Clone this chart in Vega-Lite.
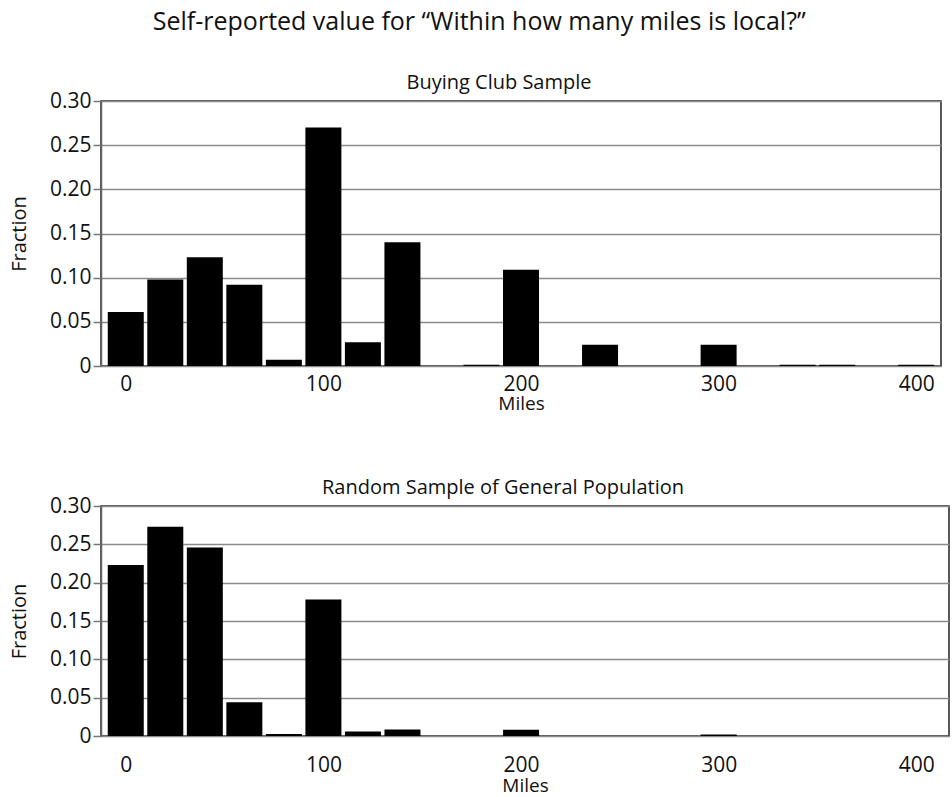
{
  "$schema": "https://vega.github.io/schema/vega-lite/v6.json",
  "autosize": "pad",
  "padding": {"left": 8, "top": 10, "right": 0, "bottom": 0},
  "background": "white",
  "title": {
    "text": "Self-reported value for “Within how many miles is local?”",
    "fontSize": 25,
    "fontWeight": "normal",
    "color": "#111",
    "anchor": "middle",
    "offset": 37
  },
  "datasets": {
    "club": [
      {"miles": 0, "fraction": 0.061},
      {"miles": 20, "fraction": 0.098},
      {"miles": 40, "fraction": 0.123},
      {"miles": 60, "fraction": 0.092},
      {"miles": 80, "fraction": 0.007},
      {"miles": 100, "fraction": 0.270},
      {"miles": 120, "fraction": 0.027},
      {"miles": 140, "fraction": 0.140},
      {"miles": 180, "fraction": 0.0015},
      {"miles": 200, "fraction": 0.109},
      {"miles": 240, "fraction": 0.024},
      {"miles": 300, "fraction": 0.024},
      {"miles": 340, "fraction": 0.0015},
      {"miles": 360, "fraction": 0.0015},
      {"miles": 400, "fraction": 0.0015}
    ],
    "general": [
      {"miles": 0, "fraction": 0.223},
      {"miles": 20, "fraction": 0.273},
      {"miles": 40, "fraction": 0.246},
      {"miles": 60, "fraction": 0.044},
      {"miles": 80, "fraction": 0.0025},
      {"miles": 100, "fraction": 0.178},
      {"miles": 120, "fraction": 0.006},
      {"miles": 140, "fraction": 0.0085},
      {"miles": 200, "fraction": 0.0083},
      {"miles": 300, "fraction": 0.002}
    ]
  },
  "config": {
    "font": "Open Sans",
    "view": {"stroke": "#222", "strokeWidth": 1.5},
    "axis": {
      "labelFont": "Open Sans",
      "titleFont": "Open Sans",
      "labelColor": "#111",
      "titleColor": "#111",
      "titleFontWeight": "normal",
      "labelFontSize": 21
    },
    "axisY": {
      "gridColor": "#8a8a8a",
      "gridWidth": 1.5,
      "gridOpacity": 1,
      "domainColor": "#666",
      "domainWidth": 1.5,
      "tickColor": "#777",
      "tickSize": 8,
      "tickWidth": 1.5,
      "labelPadding": 2,
      "titleFontSize": 20,
      "titlePadding": 20
    },
    "axisX": {
      "grid": false,
      "domain": false,
      "ticks": false,
      "titleFontSize": 19,
      "titlePadding": 0
    },
    "title": {"font": "Open Sans", "fontWeight": "normal", "color": "#111"}
  },
  "spacing": 63,
  "vconcat": [
    {
      "width": 840,
      "height": 265,
      "title": {"text": "Buying Club Sample", "fontSize": 20, "offset": -3, "dx": -22},
      "data": {"name": "club"},
      "mark": {"type": "bar", "width": 36, "color": "black"},
      "encoding": {
        "x": {
          "field": "miles",
          "type": "quantitative",
          "title": "Miles",
          "scale": {"domain": [-10, 410], "nice": false, "zero": false},
          "axis": {"values": [0, 100, 200, 300, 400], "labelPadding": 7}
        },
        "y": {
          "field": "fraction",
          "type": "quantitative",
          "title": "Fraction",
          "scale": {"domain": [0, 0.3], "nice": false},
          "axis": {
            "values": [0, 0.05, 0.1, 0.15, 0.2, 0.25, 0.3],
            "labelExpr": "datum.value == 0 ? '0' : format(datum.value, '.2f')"
          }
        }
      }
    },
    {
      "width": 848,
      "height": 230,
      "title": {"text": "Random Sample of General Population", "fontSize": 20, "offset": -3, "dx": -22},
      "data": {"name": "general"},
      "mark": {"type": "bar", "width": 36, "color": "black"},
      "encoding": {
        "x": {
          "field": "miles",
          "type": "quantitative",
          "title": "Miles",
          "scale": {"domain": [-10, 414], "nice": false, "zero": false},
          "axis": {"values": [0, 100, 200, 300, 400], "labelPadding": 18, "titlePadding": 1}
        },
        "y": {
          "field": "fraction",
          "type": "quantitative",
          "title": "Fraction",
          "scale": {"domain": [0, 0.3], "nice": false},
          "axis": {
            "values": [0, 0.05, 0.1, 0.15, 0.2, 0.25, 0.3],
            "labelExpr": "datum.value == 0 ? '0' : format(datum.value, '.2f')"
          }
        }
      }
    }
  ]
}
